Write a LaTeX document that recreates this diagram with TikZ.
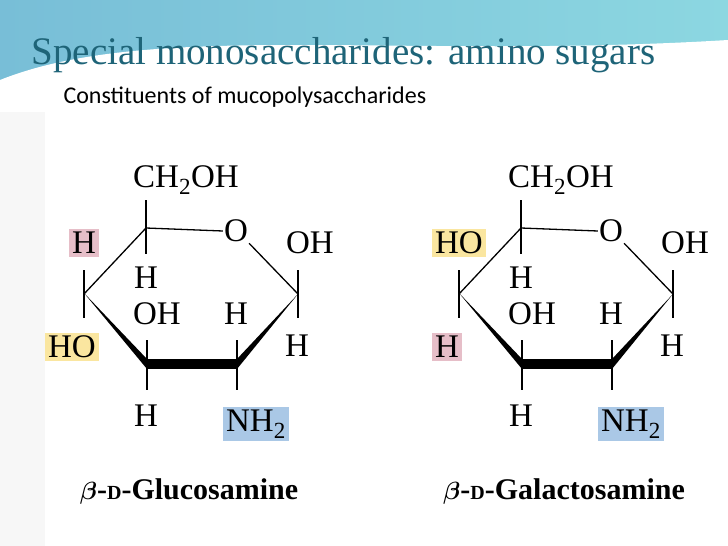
\documentclass[tikz,border=0pt]{standalone}
\usepackage{amsmath}
\usepackage{fontspec}
\setmainfont{Liberation Serif}
\newfontfamily\subf{Carlito}
\definecolor{teal1}{RGB}{120,190,215}
\definecolor{teal2}{RGB}{140,215,225}
\definecolor{titlec}{RGB}{30,100,120}
\definecolor{pinkb}{RGB}{230,190,200}
\definecolor{yelb}{RGB}{250,230,160}
\definecolor{blueb}{RGB}{170,200,230}
\begin{document}
\begin{tikzpicture}[x=1pt,y=-1pt,
  lab/.style={font=\fontsize{33}{33}\selectfont, inner sep=1pt},
  boxp/.style={lab,fill=pinkb,inner sep=3pt},
  boxy/.style={lab,fill=yelb,inner sep=3pt},
  boxb/.style={lab,fill=blueb,inner sep=3pt},
  bond/.style={line width=1.3pt},
  nm/.style={font=\bfseries\fontsize{30}{30}\selectfont}]
\useasboundingbox (0,0) rectangle (728,546);
\fill[white] (0,0) rectangle (728,546);
\fill[left color=teal1,right color=teal2] (0,0) rectangle (728,80);
\fill[white] (0,80) .. controls (150,20) and (400,60) .. (728,40) -- (728,120) -- (0,120) -- cycle;
\fill[gray!6] (0,112) rectangle (45,546);
\node[anchor=west,text=titlec,font=\fontsize{39}{39}\selectfont] (title) at (28,55) {Special monosaccharides: amino sugars};
\node[anchor=west,font=\subf\fontsize{24}{24}\selectfont] (sub) at (60,97) {Constituents of mucopolysaccharides};
\foreach \dx/\nm/\tl/\bl/\ts/\bs in {0/Glucosamine/H/HO/boxp/boxy, 375/Galactosamine/HO/H/boxy/boxp}{
\begin{scope}[xshift=\dx]
\coordinate (c5) at (146,228); \coordinate (c1) at (298,294);
\node[lab] (o) at (236,231) {O};
\draw[bond] (c5) -- (o.west);
\draw[bond] (o.south east) -- (c1);
\draw[bond] (c5) -- (84,294);
\fill (84,293) -- (147,359) -- (147,369) -- cycle;
\fill (147,359) rectangle (237,369);
\fill (237,359) -- (237,369) -- (298,294) -- cycle;
\draw[bond] (146,200) -- (146,254);
\draw[bond] (84,270) -- (84,318);
\draw[bond] (147,340) -- (147,390);
\draw[bond] (237,340) -- (237,390);
\draw[bond] (298,270) -- (298,318);
\node[lab] (ch) at (186,180) {CH\textsubscript{2}OH};
\node[lab] (h5) at (146,278) {H};
\node[\ts] (t4) at (84,243) {\tl};
\node[\bs] (b4) at (72,347) {\bl};
\node[lab] (oh3) at (157,314) {OH};
\node[lab] (h3) at (146,416) {H};
\node[lab] (h2) at (236,314) {H};
\node[boxb] (n2) at (256,424) {NH\textsubscript{2}};
\node[lab] (oh1) at (310,243) {OH};
\node[lab] (h1) at (297,346) {H};
\node[nm] (name) at (189,492) {$\boldsymbol\beta$-{\fontsize{20}{20}\selectfont D}-\nm};
\end{scope}}
\end{tikzpicture}
\end{document}
